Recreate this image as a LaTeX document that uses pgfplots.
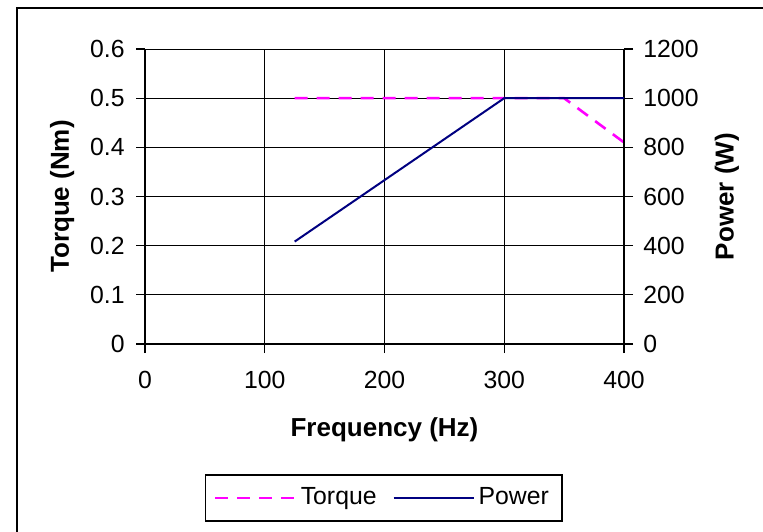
\documentclass[border=0pt]{standalone}
\usepackage{fontspec}
\setmainfont{Liberation Sans}
\usepackage{pgfplots}
\pgfplotsset{compat=1.18}
\definecolor{navyline}{RGB}{0,0,128}
\definecolor{magline}{RGB}{255,0,255}
\begin{document}
\fontsize{12}{14}\selectfont
\begin{tikzpicture}
\useasboundingbox (0,0) rectangle (381.5pt,-265.5pt);
\draw[line width=0.8pt] (8.5pt,-4pt) rectangle (400pt,-290pt);
\pgfplotsset{
 base/.style={
  at={(72.5pt,-172pt)}, anchor=south west,
  scale only axis, width=239.5pt, height=147.5pt,
  xmin=0,xmax=400,
  tick align=outside, major tick length=4.5pt,
  /pgf/number format/assume math mode=true,
  /pgf/number format/1000 sep={},
  tick label style={font=\fontsize{12.4}{14}\selectfont},
  label style={font=\bfseries\fontsize{13}{15}\selectfont},
  axis line style={line width=0.6pt},
  every tick/.style={black, line width=0.6pt},
 }}
\begin{axis}[base,
  ymin=0, ymax=0.6,
  ytick={0,0.1,0.2,0.3,0.4,0.5,0.6},
  yticklabel style={/pgf/number format/fixed,/pgf/number format/precision=1, xshift=-1.5pt},
  xtick={0,100,200,300,400},
  xticklabel style={yshift=-5pt},
  grid=major, major grid style={black, line width=0.5pt},
  axis y line*=left, axis x line*=bottom,
  xlabel={Frequency (Hz)}, ylabel={Torque (Nm)},
  x label style={at={(axis description cs:0.5,-0.292)}, anchor=center},
  y label style={at={(axis description cs:-0.173,0.5)}, anchor=center},
 ]
\addplot[magline, line width=1.3pt, dash pattern=on 6.5pt off 4.5pt] coordinates {
 (125,0.5) (150,0.5) (200,0.5) (250,0.5) (300,0.5) (350,0.5) (400,0.41)};
\end{axis}
\begin{axis}[base,
  axis y line*=right, axis x line=none,
  ymin=0, ymax=1200, ytick={0,200,400,600,800,1000,1200},
  yticklabel style={xshift=1pt},
  ylabel={Power (W)},
  y label style={at={(axis description cs:1.215,0.5)}, anchor=center},
  legend columns=2,
  legend image code/.code={\draw[#1] (0pt,0pt) -- (40pt,0pt);},
  legend style={at={(axis description cs:0.498,-0.522)}, anchor=center,
    draw=black, line width=0.6pt, font=\fontsize{12.4}{14}\selectfont,
    inner xsep=4.5pt, inner ysep=4.3pt,
    /tikz/every even column/.append style={column sep=6pt}},
 ]
\addlegendimage{magline, line width=1.3pt, dash pattern=on 6.5pt off 4.5pt}
\addlegendentry{Torque}
\addplot[navyline, line width=1pt] coordinates {
 (125,416.7) (150,500) (175,583.3) (200,666.7) (225,750) (250,833.3) (275,916.7) (300,1000) (350,1000) (400,1000)};
\addlegendentry{Power}
\end{axis}
\end{tikzpicture}
\end{document}
